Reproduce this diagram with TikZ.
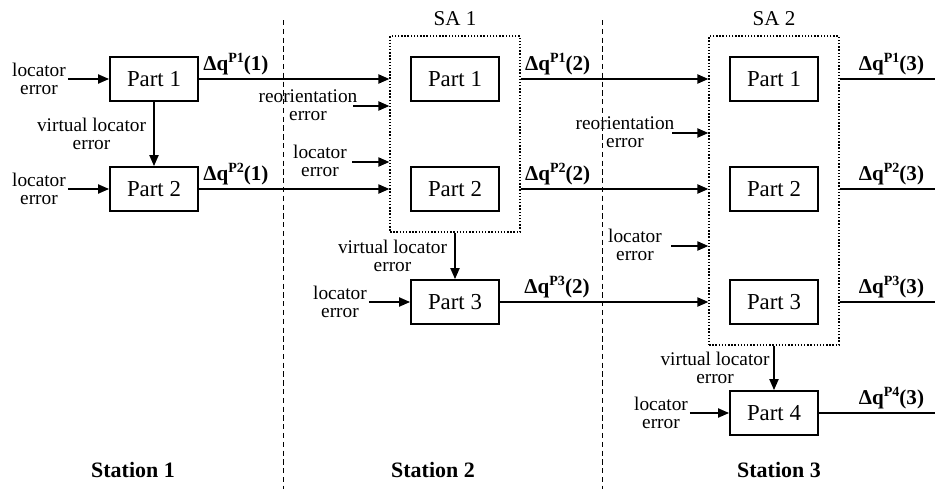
\documentclass[tikz,border=0pt]{standalone}
\usepackage{fontspec}
\setmainfont{Liberation Serif}
\usepackage{tikz}
\usetikzlibrary{arrows.meta, positioning, fit}

\newcommand{\dqlab}[2]{Δq\raisebox{0.8ex}{\fontsize{8}{8}\selectfont #1}(#2)}

\begin{document}
\begin{tikzpicture}[
    partbox/.style = {rectangle, draw=black, line width=1pt, minimum width=1.76cm, minimum height=0.88cm, inner sep=0pt, font=\fontsize{13}{13}\selectfont},
    sabox/.style = {rectangle, draw=black, densely dotted, line width=0.8pt, inner sep=0.4cm},
    errlabel/.style = {align=center, inner sep=1pt, font=\fontsize{11}{10}\selectfont},
    dqlabel/.style = {inner sep=2pt, font=\fontsize{12}{12}\selectfont\bfseries},
    salabel/.style = {font=\fontsize{12}{12}\selectfont},
    stlabel/.style = {font=\fontsize{12.5}{12.5}\selectfont\bfseries},
    divider/.style = {draw=black, line width=0.5pt, dash pattern=on 3pt off 2pt},
    arrow/.style = {draw=black, ->, >={Triangle[length=2.2mm, width=1.8mm]}, line width=1.1pt},
    outline/.style = {draw=black, line width=1.1pt}
]

\useasboundingbox (0,0) rectangle (18.7,-9.78);

% Station dividers
\coordinate (div1top) at (5.66,-0.4);
\coordinate (div1bot) at (5.66,-9.78);
\coordinate (div2top) at (12.04,-0.4);
\coordinate (div2bot) at (12.04,-9.78);
\draw [divider] (div1top) -- (div1bot);
\draw [divider] (div2top) -- (div2bot);

% Station 1: Part 1 and Part 2
\node (s1p1) [partbox] at (3.08,-1.58) {Part 1};
\node (s1p2) [partbox] at (3.08,-3.78) {Part 2};
\node (s1le1) [errlabel] at (0.78,-1.58) {locator\\error};
\node (s1le2) [errlabel] at (0.78,-3.78) {locator\\error};

\draw [arrow] (s1le1.east) -- (s1p1.west);
\draw [arrow] (s1le2.east) -- (s1p2.west);
\draw [arrow] (s1p1.south) -- node[errlabel, left=3pt]{virtual locator\\error} (s1p2.north);

% Station 2: subassembly SA 1 and Part 3
\node (s2p1) [partbox] at (9.10,-1.58) {Part 1};
\node (s2p2) [partbox] at (9.10,-3.78) {Part 2};
\node (sa1) [sabox, fit=(s2p1)(s2p2)] {};
\node (sa1lab) [salabel, above=2pt of sa1] {SA 1};
\node (s2p3) [partbox] at (9.10,-6.04) {Part 3};

\node (s2re) [errlabel] at (6.16,-2.10) {reorientation\\error};
\coordinate (s2retail) at (7.06,-2.12);
\node (s2le) [errlabel] at (6.40,-3.22) {locator\\error};
\coordinate (s2letail) at (7.04,-3.24);
\node (s2le3) [errlabel] at (6.80,-6.04) {locator\\error};

\draw [arrow] (s1p1.east) -- node[dqlabel, above right, at start]{\dqlab{P1}{1}} (s1p1.east -| sa1.west);
\draw [arrow] (s1p2.east) -- node[dqlabel, above right, at start]{\dqlab{P2}{1}} (s1p2.east -| sa1.west);
\draw [arrow] (s2retail) -- (s2retail -| sa1.west);
\draw [arrow] (s2letail) -- (s2letail -| sa1.west);
\draw [arrow] (s2le3.east) -- (s2p3.west);
\draw [arrow] (sa1.south) -- node[errlabel, left=3pt]{virtual locator\\error} (s2p3.north);

% Station 3: subassembly SA 2 and Part 4
\node (s3p1) [partbox] at (15.48,-1.58) {Part 1};
\node (s3p2) [partbox] at (15.48,-3.78) {Part 2};
\node (s3p3) [partbox] at (15.48,-6.04) {Part 3};
\node (sa2) [sabox, fit=(s3p1)(s3p3)] {};
\node (sa2lab) [salabel, above=2pt of sa2] {SA 2};
\node (s3p4) [partbox] at (15.48,-8.26) {Part 4};

\node (s3re) [errlabel] at (12.50,-2.64) {reorientation\\error};
\coordinate (s3retail) at (13.44,-2.66);
\node (s3le) [errlabel] at (12.70,-4.90) {locator\\error};
\coordinate (s3letail) at (13.42,-4.92);
\node (s3le4) [errlabel] at (13.22,-8.26) {locator\\error};

\draw [arrow] (s2p1.east -| sa1.east) -- node[dqlabel, above right, at start]{\dqlab{P1}{2}} (s2p1.east -| sa2.west);
\draw [arrow] (s2p2.east -| sa1.east) -- node[dqlabel, above right, at start]{\dqlab{P2}{2}} (s2p2.east -| sa2.west);
\draw [arrow] (s2p3.east) -- (s2p3.east -| sa2.west);
\node (dq3) [dqlabel, above right] at (s2p3.east -| sa1.east) {\dqlab{P3}{2}};
\draw [arrow] (s3retail) -- (s3retail -| sa2.west);
\draw [arrow] (s3letail) -- (s3letail -| sa2.west);
\draw [arrow] (s3le4.east) -- (s3p4.west);
\draw [arrow] (sa2.south) -- node[errlabel, left=1pt]{virtual locator\\error} (s3p4.north);

% Outputs of station 3
\coordinate (out1) at (18.7,-1.58);
\coordinate (out2) at (18.7,-3.78);
\coordinate (out3) at (18.7,-6.04);
\coordinate (out4) at (18.7,-8.26);
\draw [outline] (s3p1.east -| sa2.east) -- node[dqlabel, above left, at end, xshift=-0.13cm]{\dqlab{P1}{3}} (out1);
\draw [outline] (s3p2.east -| sa2.east) -- node[dqlabel, above left, at end, xshift=-0.13cm]{\dqlab{P2}{3}} (out2);
\draw [outline] (s3p3.east -| sa2.east) -- node[dqlabel, above left, at end, xshift=-0.13cm]{\dqlab{P3}{3}} (out3);
\draw [outline] (s3p4.east) -- node[dqlabel, above left, at end, xshift=-0.13cm]{\dqlab{P4}{3}} (out4);

% Station names
\node (st1) [stlabel] at (2.66,-9.40) {Station 1};
\node (st2) [stlabel] at (8.66,-9.40) {Station 2};
\node (st3) [stlabel] at (15.58,-9.40) {Station 3};

\end{tikzpicture}
\end{document}
